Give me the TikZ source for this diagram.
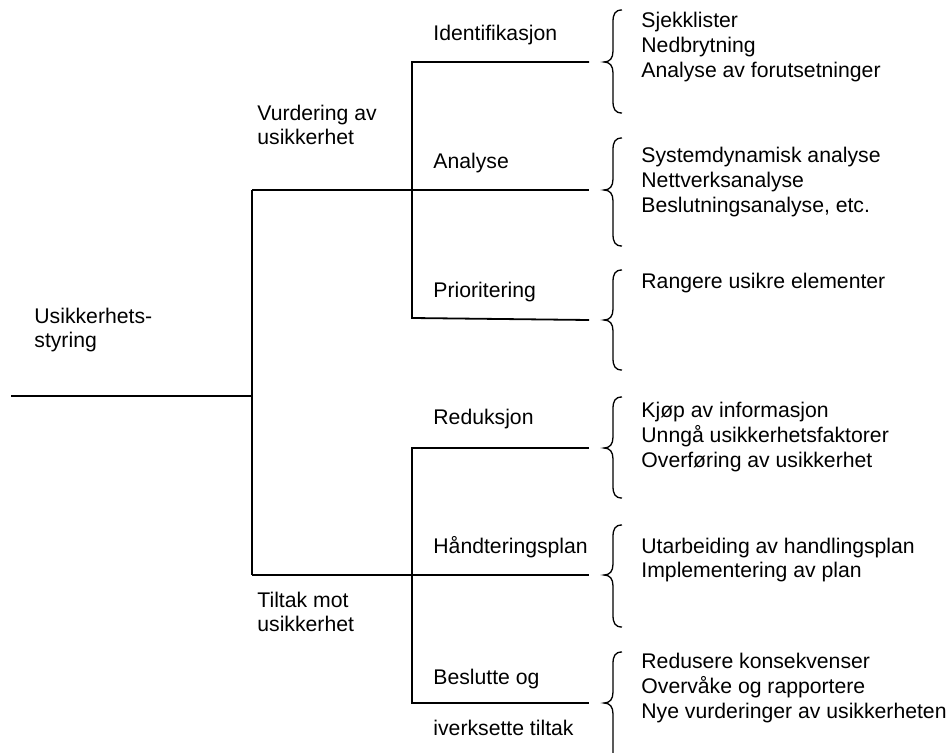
\documentclass[tikz,border=0pt]{standalone}
\usepackage{fontspec}
\setmainfont{Liberation Sans}
\newcommand\curlybrace[3]{% #1 top, #2 tip, #3 bottom (y values)
  \draw[bracestyle] (622,#1) .. controls (615,#1) and (613,{#1+4}) .. (613,{#1+12})
    -- (613,{#2-11}) .. controls (613,{#2-4}) and (610,#2) .. (604,#2)
    .. controls (610,#2) and (613,{#2+4}) .. (613,{#2+11})
    -- (613,{#3-12}) .. controls (613,{#3-4}) and (615,#3) .. (622,#3);}
\begin{document}
\begin{tikzpicture}[x=0.5pt,y=-0.5pt,
  treeline/.style={line width=0.9pt,line join=miter},
  bracestyle/.style={line width=0.65pt},
  lbl/.style={anchor=west,inner sep=0pt,align=left,
    font=\fontsize{10.6}{12.4}\selectfont}]
\clip (0,0) rectangle (951,753);
\fill[white] (0,0) rectangle (951,753);

% junction points of the tree
\coordinate (r0) at (11,396);
\coordinate (r1) at (252,396);
\coordinate (m1) at (252,190);
\coordinate (m2) at (252,575);
\coordinate (u0) at (412,62);
\coordinate (u2) at (412,318);
\coordinate (l0) at (412,448);
\coordinate (l2) at (412,703);
\coordinate (e1) at (589,62);
\coordinate (e2) at (589,190);
\coordinate (e3) at (589,320);
\coordinate (e4) at (589,448);
\coordinate (e5) at (589,575);
\coordinate (e6) at (589,703);

% tree lines
\draw[treeline] (r0) -- (r1);
\draw[treeline] (m1) -- (m2);
\draw[treeline] (m1) -- (e2);
\draw[treeline] (m2) -- (e5);
\draw[treeline] (e1) -- (u0) -- (u2) -- (e3);
\draw[treeline] (e4) -- (l0) -- (l2) -- (e6);

% labels on the tree
\node[lbl] (root) at (34,330) {Usikkerhets-\\styring};
\node[lbl] (vurd) at (257,125) {Vurdering av\\usikkerhet};
\node[lbl] (tilt) at (257,612) {Tiltak mot\\usikkerhet};
\node[lbl] (ident) at (433,35) {Identifikasjon};
\node[lbl] (anal) at (433,163) {Analyse};
\node[lbl] (prio) at (433,292) {Prioritering};
\node[lbl] (red) at (433,419) {Reduksjon};
\node[lbl] (hand) at (433,547) {Håndteringsplan};
\node[lbl] (besl) at (433,679) {Beslutte og};
\node[lbl] (iverk) at (433,728) {iverksette tiltak};

% braces
\curlybrace{10}{62}{113}
\curlybrace{138}{190}{246}
\curlybrace{270}{320}{370}
\curlybrace{397}{448}{498}
\curlybrace{525}{575}{627}
\curlybrace{652}{703}{805}

% method lists
\node[lbl] (list1) at (641,47) {Sjekklister\\Nedbrytning\\Analyse av forutsetninger};
\node[lbl] (list2) at (641,182) {Systemdynamisk analyse\\Nettverksanalyse\\Beslutningsanalyse, etc.};
\node[lbl] (list3) at (641,283) {Rangere usikre elementer};
\node[lbl] (list4) at (641,437) {Kjøp av informasjon\\Unngå usikkerhetsfaktorer\\Overføring av usikkerhet};
\node[lbl] (list5) at (641,560) {Utarbeiding av handlingsplan\\Implementering av plan};
\node[lbl] (list6) at (641,688) {Redusere konsekvenser\\Overvåke og rapportere\\Nye vurderinger av usikkerheten};
\end{tikzpicture}
\end{document}
